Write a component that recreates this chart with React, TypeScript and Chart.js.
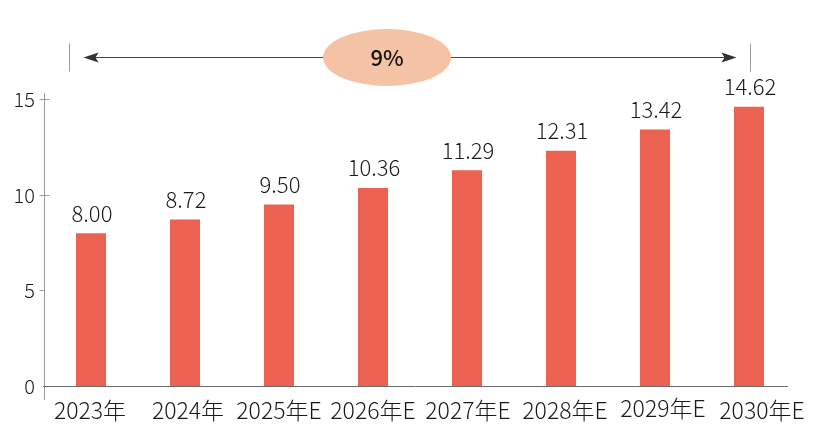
import React, { useEffect, useRef } from 'react';
import { Chart, registerables } from 'chart.js';

Chart.register(...registerables);

const categories = ['2023年', '2024年', '2025年E', '2026年E', '2027年E', '2028年E', '2029年E', '2030年E'];
const values = [8.0, 8.72, 9.5, 10.36, 11.29, 12.31, 13.42, 14.62];
const yTicks = [0, 5, 10, 15];
const cagrLabel = '9%';

const FONT = "'Noto Sans CJK SC', 'Noto Sans', sans-serif";
const BAR_COLOR = '#EB6250';
// small hand-placement nudges of the category labels seen in the reference
const labelNudgeX = [-1, 3, 0, 0, 1, 4, 8, 13];
const labelNudgeY = [0, 0, 0, 0, 0, 0, -2, 0];

const decor = {
  id: 'decor',
  afterDatasetsDraw(chart: any) {
    const ctx = chart.ctx as CanvasRenderingContext2D;
    const ca = chart.chartArea;
    const x = chart.scales.x;
    const y = chart.scales.y;
    const line = (x1: number, y1: number, x2: number, y2: number) => {
      ctx.beginPath();
      ctx.moveTo(x1, y1);
      ctx.lineTo(x2, y2);
      ctx.stroke();
    };
    ctx.save();
    ctx.lineWidth = 1;

    // y axis line and tick marks
    const ax = Math.round(ca.left) + 0.5;
    ctx.strokeStyle = '#9a9a9a';
    line(ax, ca.top - 2, ax, ca.bottom + 14);
    yTicks.forEach((v) => {
      if (v === 0) return;
      const py = Math.round(y.getPixelForValue(v)) + 0.5;
      line(ax - 5, py, v >= 10 ? ax + 5 : ax, py);
    });

    // x axis line
    const by = Math.round(y.getPixelForValue(0)) + 0.5;
    ctx.strokeStyle = '#6b6b6b';
    line(ca.left - 1, by, x.getPixelForValue(values.length - 1) + 39, by);

    // category labels
    ctx.fillStyle = '#1a1a1a';
    ctx.textAlign = 'center';
    ctx.textBaseline = 'middle';
    ctx.font = `300 23px ${FONT}`;
    categories.forEach((c, i) => {
      ctx.fillText(c, x.getPixelForValue(i) + labelNudgeX[i], by + 24 + labelNudgeY[i]);
    });

    // data labels
    ctx.font = `300 22px ${FONT}`;
    const meta = chart.getDatasetMeta(0);
    meta.data.forEach((bar: any, i: number) => {
      ctx.fillText(values[i].toFixed(2), bar.x + 1, bar.y - 20);
    });

    // CAGR annotation
    const ay = Math.round(ca.top - 38) + 0.5;
    const lx = Math.round(x.getPixelForValue(0) - 22) + 0.5;
    const rx = Math.round(x.getPixelForValue(values.length - 1) + 1) + 0.5;
    ctx.strokeStyle = '#9a9a9a';
    line(lx, ay - 14, lx, ay + 14);
    line(rx, ay - 14, rx, ay + 14);
    ctx.strokeStyle = '#444';
    line(lx + 16, ay, rx - 16, ay);
    ctx.fillStyle = '#333';
    ctx.beginPath();
    ctx.moveTo(lx + 14, ay);
    ctx.lineTo(lx + 29, ay - 5);
    ctx.lineTo(lx + 26, ay);
    ctx.lineTo(lx + 29, ay + 5);
    ctx.closePath();
    ctx.fill();
    ctx.beginPath();
    ctx.moveTo(rx - 14, ay);
    ctx.lineTo(rx - 29, ay - 5);
    ctx.lineTo(rx - 26, ay);
    ctx.lineTo(rx - 29, ay + 5);
    ctx.closePath();
    ctx.fill();

    const ex = x.getPixelForValue(3.15);
    ctx.fillStyle = '#F4C2A4';
    ctx.beginPath();
    ctx.ellipse(ex, ay, 64, 28.5, 0, 0, Math.PI * 2);
    ctx.fill();
    ctx.fillStyle = '#111';
    ctx.font = `500 22px ${FONT}`;
    ctx.fillText(cagrLabel, ex, ay);
    ctx.restore();
  },
};

export default function App() {
  const ref = useRef<HTMLCanvasElement | null>(null);
  useEffect(() => {
    if (!ref.current) return;
    const chart = new Chart(ref.current, {
      type: 'bar',
      data: {
        labels: categories,
        datasets: [
          {
            data: values,
            backgroundColor: BAR_COLOR,
            borderWidth: 0,
            barPercentage: 0.32,
            categoryPercentage: 1,
          },
        ],
      },
      options: {
        animation: false,
        responsive: true,
        maintainAspectRatio: false,
        layout: { padding: { top: 95, right: 19, left: 0, bottom: 0 } },
        plugins: {
          legend: { display: false },
          tooltip: { enabled: false },
        },
        scales: {
          x: {
            grid: { display: false, drawTicks: false },
            border: { display: false },
            ticks: { display: false },
            afterFit: (s: any) => {
              s.height = 49;
            },
          },
          y: {
            min: 0,
            max: 15.23,
            grid: { display: false, drawTicks: false },
            border: { display: false },
            afterBuildTicks: (s: any) => {
              s.ticks = yTicks.map((v) => ({ value: v }));
            },
            ticks: {
              color: '#1a1a1a',
              font: { family: FONT, size: 20, weight: '300' as any },
              padding: 9,
            },
            afterFit: (s: any) => {
              s.width = 44;
            },
          },
        },
      },
      plugins: [decor],
    });
    return () => chart.destroy();
  }, []);
  return (
    <div style={{ position: 'fixed', left: 0, top: 0, width: 815, height: 435 }}>
      <canvas ref={ref} />
    </div>
  );
}
